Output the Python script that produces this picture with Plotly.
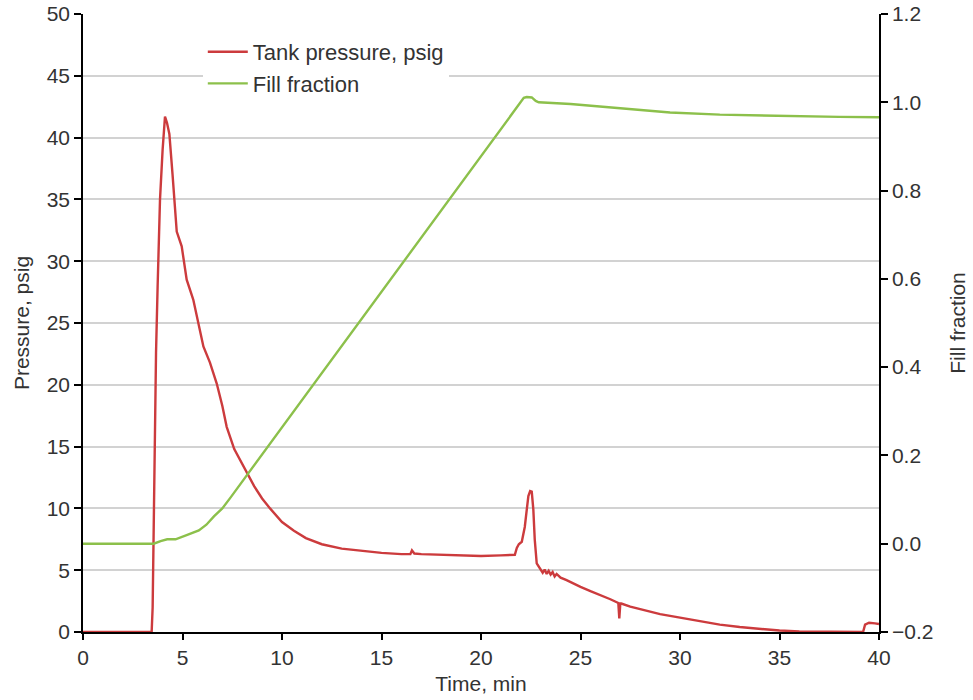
import plotly.graph_objects as go

# ---- data ----
p_time = [0, 3.45, 3.5, 3.55, 3.6, 3.67, 3.75, 3.87, 4.0, 4.12, 4.22, 4.34, 4.5, 4.71, 4.96,
          5.21, 5.54, 5.8, 6.05, 6.38, 6.72, 7.0, 7.22, 7.6, 8.0, 8.25, 8.6, 9.0, 9.4, 10.0,
          10.6, 11.2, 12.0, 13.0, 14.0, 15.0, 16.0, 16.45, 16.53, 16.65, 17.0, 18.0, 19.0,
          20.0, 21.0, 21.7, 21.8, 21.9, 22.05, 22.2, 22.3, 22.38, 22.47, 22.55, 22.63, 22.7,
          22.8, 22.9, 23.0, 23.1, 23.2, 23.3, 23.4, 23.5, 23.6, 23.7, 23.8, 24.0, 24.3, 24.6,
          25.0, 25.5, 26.0, 26.5, 26.9, 26.95, 27.0, 27.05, 27.5, 28.0, 28.5, 29.0, 29.5,
          30.0, 31.0, 32.0, 33.0, 34.0, 35.0, 36.0, 37.0, 38.0, 39.2, 39.3, 39.5, 39.8, 40.0]
pressure = [0, 0, 2.0, 8.0, 16.0, 22.6, 28.0, 35.0, 39.0, 41.7, 41.2, 40.3, 37.0, 32.4, 31.2,
            28.5, 26.9, 25.0, 23.1, 21.8, 20.1, 18.3, 16.6, 14.8, 13.6, 12.9, 11.8, 10.8, 10.0, 8.9,
            8.2, 7.6, 7.1, 6.75, 6.55, 6.4, 6.3, 6.3, 6.6, 6.35, 6.3, 6.25, 6.2,
            6.15, 6.2, 6.25, 6.8, 7.1, 7.3, 8.5, 9.9, 11.0, 11.4, 11.35, 9.9, 7.5,
            5.55, 5.3, 5.1, 4.8, 5.05, 4.7, 4.95, 4.65, 4.85, 4.5, 4.7, 4.4, 4.2, 3.95,
            3.65, 3.3, 3.0, 2.65, 2.35, 1.1, 2.3, 2.3, 2.05, 1.85, 1.6, 1.45, 1.3,
            1.15, 0.85, 0.6, 0.4, 0.25, 0.12, 0.05, 0.02, 0.0, 0.0, 0.6, 0.75, 0.7, 0.65]

f_time = [0, 3.55, 3.9, 4.23, 4.65, 5.0, 5.24, 5.82, 6.2, 6.58, 7.0, 7.42, 22.15, 22.3,
          22.55, 22.75, 22.9, 24.5, 27.0, 29.5, 32.0, 35.0, 38.0, 40.0]
fill_fraction = [0, 0, 0.006, 0.01, 0.01, 0.015, 0.02, 0.03, 0.043, 0.062, 0.08, 0.105, 1.01,
                 1.012, 1.011, 1.003, 1.0, 0.996, 0.986, 0.977, 0.972, 0.969, 0.967, 0.966]

x_ticks = [0, 5, 10, 15, 20, 25, 30, 35, 40]
y1_ticks = [0, 5, 10, 15, 20, 25, 30, 35, 40, 45, 50]
y2_ticks = [-0.2, 0.0, 0.2, 0.4, 0.6, 0.8, 1.0, 1.2]

RED = "#cc3b3d"
GREEN = "#8cc04b"
FONT = "Liberation Sans, Arial, sans-serif"
TXT = "#333333"
FS = 21

fig = go.Figure()
fig.add_trace(go.Scatter(x=p_time, y=pressure, mode="lines", name="Tank pressure, psig",
                         line=dict(color=RED, width=2.4), yaxis="y"))
fig.add_trace(go.Scatter(x=f_time, y=fill_fraction, mode="lines", name="Fill fraction",
                         line=dict(color=GREEN, width=2.4), yaxis="y2"))

fig.update_layout(
    width=973, height=700,
    margin=dict(l=83, r=94, t=14, b=68),
    paper_bgcolor="white", plot_bgcolor="white",
    font=dict(family=FONT, size=FS, color=TXT),
    showlegend=True,
    legend=dict(x=0.1505, y=0.9725, xanchor="left", yanchor="top",
                bgcolor="white", borderwidth=0,
                font=dict(family=FONT, size=22, color=TXT),
                tracegroupgap=0, itemwidth=40),
    xaxis=dict(range=[0, 40], tickvals=x_ticks, showgrid=False, zeroline=False,
               automargin=False, ticklabeloverflow="allow",
               showline=True, linecolor="black", linewidth=1.5,
               ticks="outside", ticklen=6, tickcolor="black", tickwidth=1.5,
               title=dict(text="Time, min", standoff=8, font=dict(size=FS, color=TXT)),
               tickfont=dict(size=FS, color=TXT)),
    yaxis=dict(range=[0, 50], tickvals=y1_ticks, showgrid=True, gridcolor="#d2d2d2",
               gridwidth=1.5, zeroline=False, automargin=False, ticklabeloverflow="allow",
               showline=True, linecolor="black", linewidth=1.5,
               ticks="outside", ticklen=7, tickcolor="black", tickwidth=1.5,
               title=dict(text="Pressure, psig", standoff=11, font=dict(size=FS, color=TXT)),
               tickfont=dict(size=FS, color=TXT)),
    yaxis2=dict(range=[-0.2, 1.2], tickvals=y2_ticks, tickformat=".1f",
                overlaying="y", side="right", showgrid=False, zeroline=False,
                automargin=False, ticklabeloverflow="allow",
                showline=True, linecolor="black", linewidth=1.5,
                ticks="outside", ticklen=7, tickcolor="black", tickwidth=1.5,
                title=dict(text="Fill fraction", standoff=18, font=dict(size=FS, color=TXT)),
                tickfont=dict(size=FS, color=TXT)),
)

# remove the default 8px page margin so the figure fills the window exactly
fig.write_html("out.html", config={"displayModeBar": False},
               post_script="document.body.style.margin='0';")
